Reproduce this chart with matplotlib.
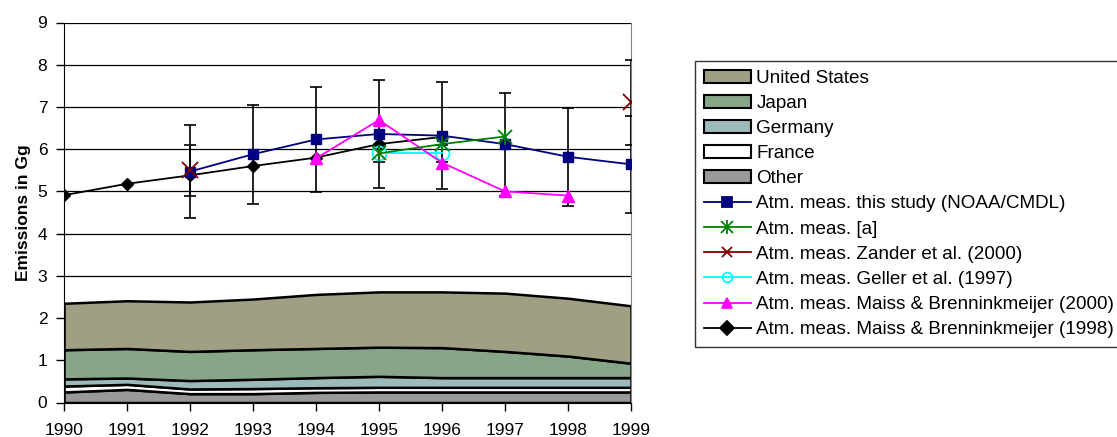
import numpy as np
import matplotlib.pyplot as plt
from matplotlib.patches import Patch
from matplotlib.lines import Line2D

plt.rcParams['font.family'] = ['Liberation Sans', 'DejaVu Sans']

# Emission inventory by country (Gg), stacked
years = [1990, 1991, 1992, 1993, 1994, 1995, 1996, 1997, 1998, 1999]
other = [0.25, 0.31, 0.21, 0.21, 0.24, 0.25, 0.25, 0.25, 0.25, 0.25]
france = [0.14, 0.12, 0.11, 0.12, 0.11, 0.11, 0.11, 0.11, 0.11, 0.11]
germany = [0.17, 0.15, 0.20, 0.22, 0.24, 0.26, 0.23, 0.23, 0.23, 0.23]
japan = [0.69, 0.70, 0.69, 0.70, 0.69, 0.69, 0.71, 0.62, 0.51, 0.34]
usa = [1.10, 1.13, 1.17, 1.20, 1.28, 1.31, 1.32, 1.38, 1.37, 1.36]

# Atmospheric measurements
noaa_years = [1992, 1993, 1994, 1995, 1996, 1997, 1998, 1999]
noaa = [5.47, 5.88, 6.23, 6.36, 6.32, 6.12, 5.82, 5.64]
noaa_err = [1.1, 1.17, 1.25, 1.27, 1.27, 1.22, 1.16, 1.14]

a_years = [1995, 1996, 1997]
a_meas = [5.9, 6.12, 6.3]

zander_years = [1992, 1999]
zander = [5.5, 7.11]
zander_err = [0.6, 1.0]

geller_years = [1995, 1996]
geller = [5.9, 5.9]
geller_err = [0.2, 0.2]

maiss2000_years = [1994, 1995, 1996, 1997, 1998]
maiss2000 = [5.78, 6.69, 5.68, 5.0, 4.9]

maiss1998_years = [1990, 1991, 1992, 1993, 1994, 1995, 1996]
maiss1998 = [4.91, 5.18, 5.38, 5.6, 5.8, 6.12, 6.29]

area_colors = ['#999999', '#ffffff', '#9dbaba', '#87a688', '#a09f84']
area_labels = ['Other', 'France', 'Germany', 'Japan', 'United States']

fig = plt.figure(figsize=(11.17, 4.37), dpi=100)
ax = fig.add_axes([64 / 1117, 1 - 402.5 / 437, (631 - 64) / 1117, (402.5 - 22.5) / 437])

ax.set_axisbelow(True)
ax.yaxis.grid(True, color='black', linewidth=0.9)

ax.stackplot(years, other, france, germany, japan, usa,
             colors=area_colors, edgecolor='black', linewidth=1.8, zorder=2)

for xs, ys, es in [(noaa_years, noaa, noaa_err),
                   (zander_years, zander, zander_err),
                   (geller_years, geller, geller_err)]:
    ax.errorbar(xs, ys, yerr=es, fmt='none', ecolor='black',
                elinewidth=1.2, capsize=4, capthick=1.2, zorder=3)

ax.plot(maiss1998_years, maiss1998, color='black', marker='D', markersize=6,
        linewidth=1.3, zorder=4)
ax.plot(noaa_years, noaa, color='#000080', marker='s', markersize=7,
        linewidth=1.3, zorder=5)
ax.plot(maiss2000_years, maiss2000, color='#ff00ff', marker='^', markersize=8,
        linewidth=1.3, zorder=5)
ax.plot(geller_years, geller, color='#00ffff', marker='o', markersize=10,
        markerfacecolor='none', markeredgewidth=1.3, linewidth=1.3, zorder=4)
# Excel style star: an x with a vertical bar through it
ax.plot(a_years, a_meas, color='#008000', marker='x', markersize=10,
        markeredgewidth=1.3, linewidth=1.3, zorder=6)
ax.plot(a_years, a_meas, color='#008000', marker='|', markersize=12,
        markeredgewidth=1.3, linestyle='none', zorder=6)
ax.plot(zander_years, zander, color='#800000', marker='x', markersize=11,
        markeredgewidth=1.3, linestyle='none', zorder=6)

ax.set_xlim(1990, 1999)
ax.set_ylim(0, 9)
ax.set_xticks(years)
ax.set_yticks(range(10))
ax.tick_params(direction='out', length=6, width=1, labelsize=12.5, pad=6)
ax.tick_params(axis='x', pad=9)
ax.set_ylabel('Emissions in Gg', fontsize=12.5, fontweight='bold', labelpad=5)
for side in ['left', 'bottom']:
    ax.spines[side].set_color('black')
ax.spines['top'].set_visible(False)
ax.spines['right'].set_color('#808080')

handles = [Patch(facecolor=c, edgecolor='black', linewidth=1.5)
           for c in reversed(area_colors)]
labels = list(reversed(area_labels))

star = (Line2D([], [], color='#008000', marker='x', markersize=8, linewidth=1.3,
               markeredgewidth=1.3),
        Line2D([], [], color='#008000', marker='|', markersize=10, linestyle='none',
               markeredgewidth=1.3))
line_styles = [
    ('#000080', 's', 'Atm. meas. this study (NOAA/CMDL)', 'full'),
    (None, None, 'Atm. meas. [a]', None),
    ('#800000', 'x', 'Atm. meas. Zander et al. (2000)', 'full'),
    ('#00ffff', 'o', 'Atm. meas. Geller et al. (1997)', 'none'),
    ('#ff00ff', '^', 'Atm. meas. Maiss & Brenninkmeijer (2000)', 'full'),
    ('black', 'D', 'Atm. meas. Maiss & Brenninkmeijer (1998)', 'full'),
]
for c, m, lab, fill in line_styles:
    if c is None:
        handles.append(star)
    else:
        handles.append(Line2D([], [], color=c, marker=m, markersize=7, linewidth=1.3,
                              fillstyle=fill, markeredgewidth=1.3))
    labels.append(lab)

leg = fig.legend(handles, labels, loc='upper left',
                 bbox_to_anchor=(695 / 1117, 1 - 61 / 437), fontsize=13.6,
                 frameon=True, fancybox=False, edgecolor='black',
                 handlelength=2.5, handleheight=0.7, labelspacing=0.42,
                 handletextpad=0.3, borderpad=0.45, borderaxespad=0)
leg.get_frame().set_linewidth(1.0)

fig.savefig('out.png', dpi=100)
